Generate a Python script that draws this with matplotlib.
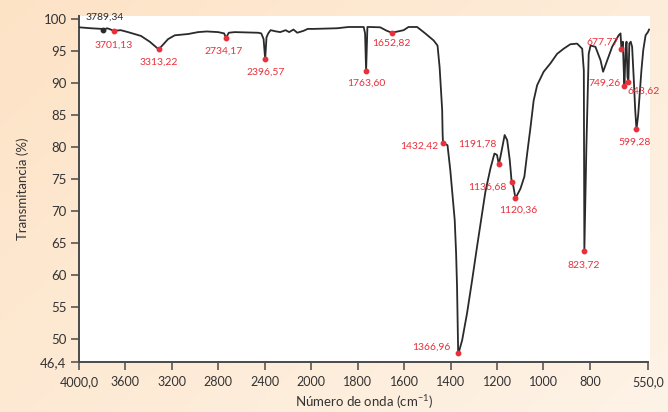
import numpy as np
import matplotlib
matplotlib.use("Agg")
import matplotlib.pyplot as plt

plt.rcParams['font.family'] = ['Liberation Sans Narrow', 'Lato', 'DejaVu Sans']

# -----------------------------
# Spectrum data (wavenumber, % transmittance)
# -----------------------------
wn = [4000, 3897, 3800, 3789.34, 3760, 3740, 3701.13, 3640, 3578, 3466, 3391,
      3313.22, 3233, 3175, 3060, 2974, 2900, 2802, 2750, 2734.17, 2710, 2658,
      2457, 2430, 2410, 2396.57, 2385, 2370, 2350, 2300, 2267, 2220, 2190, 2153,
      2120, 2066, 2030, 1990, 1889, 1839, 1774, 1768, 1763.60, 1758, 1749, 1703,
      1674, 1652.82, 1602, 1581, 1544, 1509, 1473, 1456, 1447, 1441, 1436, 1434,
      1432.42, 1413, 1401, 1391, 1382, 1376, 1372, 1369.4, 1366.96, 1350, 1329,
      1307, 1286, 1264, 1250, 1228, 1211, 1200, 1191.78, 1178, 1167, 1156, 1145,
      1136.68, 1130, 1120.36, 1099, 1082, 1070, 1056, 1042, 1027, 999, 970, 941,
      913, 884, 855, 833, 826, 823.72, 815, 805, 797, 776, 754, 743, 725, 704,
      676, 668, 664, 658, 654, 651, 646, 642, 638, 634, 630, 624, 618, 610, 605,
      599.28, 592, 585, 578, 570, 560, 550, 545]
tr = [98.75, 98.6, 98.5, 98.3, 98.6, 98.5, 98.2, 98.3, 98.0, 97.4, 96.5,
      95.3, 96.9, 97.5, 97.7, 98.0, 98.1, 98.0, 97.8, 97.1, 97.9, 98.0,
      97.9, 97.8, 96.9, 93.75, 97.2, 97.8, 98.3, 98.1, 98.0, 98.3, 98.0, 98.4,
      97.9, 98.2, 98.5, 98.5, 98.6, 98.8, 98.8, 97.8, 91.9, 98.8, 98.8, 98.75,
      98.2, 97.9, 98.3, 98.8, 98.8, 97.8, 96.7, 95.9, 92.5, 88.9, 85.8, 82.0,
      80.7, 80.3, 76.4, 72.2, 68.6, 63.4, 58.2, 53.0, 47.6, 49.8, 54.0,
      59.2, 64.4, 69.6, 73.0, 76.7, 79.0, 78.8, 77.3, 79.8, 81.9, 81.1, 78.0,
      74.5, 74.0, 72.0, 73.5, 75.4, 79.0, 83.0, 87.3, 89.7, 91.8, 93.1, 94.6,
      95.4, 96.1, 96.2, 95.4, 92.0, 63.75, 80.0, 94.6, 95.9, 95.7, 93.6, 91.8, 93.6, 95.7,
      97.5, 97.8, 95.3, 96.5, 92.0, 89.6, 95.5, 96.5, 91.0, 90.2, 96.2, 96.5, 95.7, 90.0, 86.0,
      82.8, 85.0, 88.4, 92.0, 95.2, 97.5, 98.0, 98.4]

# marked peaks: where the dot sits, its value, and the printed label
peak_wn = [3789.34, 3701.13, 3313.22, 2734.17, 2396.57, 1763.60, 1652.82,
           1432.42, 1366.96, 1191.78, 1136.68, 1120.36, 823.72, 664, 651, 634, 599.28]
peak_tr = [98.3, 98.2, 95.3, 97.1, 93.75, 91.9, 97.9,
           80.7, 47.8, 77.3, 74.5, 72.0, 63.75, 95.3, 89.6, 90.2, 82.8]
peak_labels = ["3789,34", "3701,13", "3313,22", "2734,17", "2396,57", "1763,60", "1652,82",
               "1432,42", "1366,96", "1191,78", "1136,68", "1120,36", "823,72",
               "677,77", "749,26", "643,62", "599,28"]

x_ticks = [4000, 3600, 3200, 2800, 2400, 2000, 1800, 1600, 1400, 1200, 1000, 800, 550]
x_ticklabels = ["4000,0", "3600", "3200", "2800", "2400", "2000", "1800", "1600",
                "1400", "1200", "1000", "800", "550,0"]
y_ticks = [46.4, 50, 55, 60, 65, 70, 75, 80, 85, 90, 95, 100]
y_ticklabels = ["46,4", "50", "55", "60", "65", "70", "75", "80", "85", "90", "95", "100"]

# label placement (offset in pixels from dot, horizontal alignment)
label_pos = [(1, 13, 'center'), (0, -14, 'center'), (0, -13, 'center'), (-2, -13, 'center'),
             (1, -13, 'center'), (0, -12, 'center'), (0, -10, 'center'),
             (-5, -3, 'right'), (-8, 6, 'right'), (-2, 20, 'right'), (-5, -5, 'right'),
             (3, -12, 'center'), (-1, -14, 'center'),
             (-3, 7, 'right'), (-4, 3, 'right'), (15, -9, 'center'), (-2, -13, 'center')]

RED = '#e8303a'
INK = '#2a2a2a'


# x axis: compressed by 2 above 2000 cm-1
def fwd(w):
    w = np.asarray(w, dtype=float)
    return np.where(w > 2000, 2000 + (w - 2000) / 2, w)


def inv(u):
    u = np.asarray(u, dtype=float)
    return np.where(u > 2000, 2000 + (u - 2000) * 2, u)


fig = plt.figure(figsize=(6.68, 4.12), dpi=100)
fig.patch.set_facecolor('#fde9d4')

# soft background gradient
bg = fig.add_axes([0, 0, 1, 1], zorder=-10)
gx, gy = np.meshgrid(np.linspace(0, 1, 200), np.linspace(0, 1, 200))
grad = 0.6 * gx + 0.4 * gy
bg.imshow(grad, cmap=matplotlib.colors.LinearSegmentedColormap.from_list(
    'bgc', ['#fde3c6', '#fef3e7']), aspect='auto', extent=[0, 1, 0, 1], origin='upper')
bg.axis('off')

ax = fig.add_axes([79 / 668, 50 / 412, 571 / 668, 346.2 / 412])
ax.set_facecolor('white')
ax.set_xscale('function', functions=(fwd, inv))
ax.set_xlim(4000, 541)
ax.set_ylim(46.4, 100.55)

ax.plot(wn, tr, color=INK, lw=1.3, zorder=3)

for i, (w, t, lab) in enumerate(zip(peak_wn, peak_tr, peak_labels)):
    c = INK if i == 0 else RED
    dx, dy, ha = label_pos[i]
    ax.plot(w, t, 'o', ms=3.2, color=c, zorder=4, clip_on=False)
    ax.annotate(lab, (w, t), xytext=(dx, dy), textcoords='offset pixels',
                ha=ha, va='center', fontsize=7.5, color=c, annotation_clip=False)

for s in ['top', 'right']:
    ax.spines[s].set_visible(False)
for s in ['left', 'bottom']:
    ax.spines[s].set_color('#4a4a4a')
    ax.spines[s].set_linewidth(1.4)
ax.spines['bottom'].set_bounds(4000, 550)

ax.set_xticks(x_ticks)
ax.set_xticklabels(x_ticklabels)
ax.set_yticks(y_ticks)
ax.set_yticklabels(y_ticklabels)
ax.xaxis.set_minor_locator(matplotlib.ticker.NullLocator())
ax.tick_params(axis='both', direction='out', length=6, width=1.1, color='#4a4a4a',
               labelcolor='#333333')
ax.tick_params(axis='x', labelsize=9, pad=4)
ax.tick_params(axis='y', labelsize=9.5, pad=3)

ax.set_ylabel("Transmitancia (%)", fontsize=9.5, color='#333333', labelpad=8)
ax.set_xlabel("Número de onda (cm$^{\\mathregular{-1}}$)", fontsize=9.5, color='#333333', labelpad=4)

plt.savefig("out.png", dpi=100, facecolor=fig.get_facecolor())
